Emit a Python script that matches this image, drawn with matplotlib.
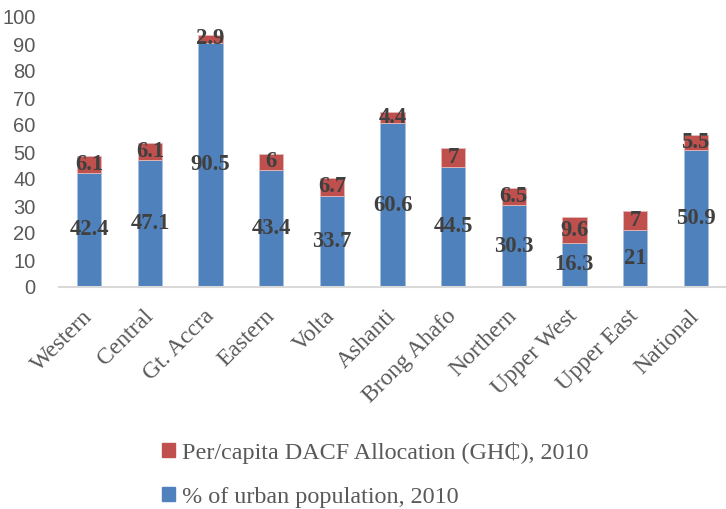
import matplotlib.pyplot as plt
from matplotlib.patches import Patch

regions = ['Western', 'Central', 'Gt. Accra', 'Eastern', 'Volta', 'Ashanti',
           'Brong Ahafo', 'Northern', 'Upper West', 'Upper East', 'National']
urban_pct = [42.4, 47.1, 90.5, 43.4, 33.7, 60.6, 44.5, 30.3, 16.3, 21, 50.9]
dacf_per_capita = [6.1, 6.1, 2.9, 6, 6.7, 4.4, 7, 6.5, 9.6, 7, 5.5]
urban_label = '% of urban population, 2010'
dacf_label = 'Per/capita DACF Allocation (GH\u20b5), 2010'

BLUE = '#4F81BD'
RED = '#C0504D'
SERIF = ['Liberation Serif', 'DejaVu Serif']

fig = plt.figure(figsize=(7.26, 5.09), dpi=100)
ax = fig.add_axes([59 / 726, 1 - 287 / 509, 1 - 59 / 726, 270 / 509])

x = range(len(regions))
ax.bar(x, urban_pct, width=0.4, color=BLUE, edgecolor='#A7BFDE', linewidth=0.6)
ax.bar(x, dacf_per_capita, width=0.4, bottom=urban_pct, color=RED,
       edgecolor='#E6B9B8', linewidth=0.6)

# value labels centred inside each segment
for i, (u, d) in enumerate(zip(urban_pct, dacf_per_capita)):
    ax.text(i, u / 2, f'{u:g}', ha='center', va='center', fontsize=16.3,
            fontweight='bold', color='#404040', family=SERIF)
    ax.text(i, u + d / 2, f'{d:g}', ha='center', va='center', fontsize=16.3,
            fontweight='bold', color='#404040', family=SERIF)

ax.set_xlim(-0.5, len(regions) - 0.5)
ax.set_ylim(0, 100)
ax.set_yticks(range(0, 101, 10))
ax.tick_params(axis='y', length=0, pad=17, labelsize=14.5, labelcolor='#595959')
for lbl in ax.get_yticklabels():
    lbl.set_family(['Liberation Sans', 'DejaVu Sans'])

ax.set_xticks(list(x))
ax.set_xticklabels(regions, rotation=45, ha='right', va='center',
                   rotation_mode='anchor', fontsize=17, color='#595959',
                   family=SERIF)
ax.tick_params(axis='x', length=0, pad=19)

for side in ['top', 'right', 'left']:
    ax.spines[side].set_visible(False)
ax.spines['bottom'].set_color('#D9D9D9')
ax.spines['bottom'].set_linewidth(1.5)

handles = [Patch(color=RED, label=dacf_label), Patch(color=BLUE, label=urban_label)]
fig.legend(handles=handles, loc='upper left', bbox_to_anchor=(140 / 726, 1 - 420 / 509),
           frameon=False, handlelength=0.55, handleheight=0.55, handletextpad=0.3,
           labelspacing=0.95, prop={'family': SERIF, 'size': 17.4}, labelcolor='#595959')

fig.savefig('out.png', dpi=100)
